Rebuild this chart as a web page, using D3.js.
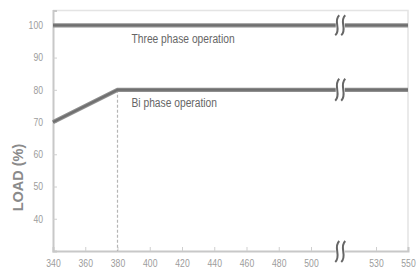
<!DOCTYPE html>
<html><head><meta charset="utf-8">
<script src="https://cdn.jsdelivr.net/npm/d3@7/dist/d3.min.js"></script>
<style>body{margin:0;background:#fff}svg{display:block}</style>
</head><body><svg id="c" width="419" height="271"></svg>
<script>
const xTicks = [340, 360, 380, 400, 420, 440, 460, 480, 500, 530, 550];
const yTicks = [40, 50, 60, 70, 80, 90, 100];
const threePhase = [[340, 100], [550, 100]];
const biPhase = [[340, 70], [380, 80], [550, 80]];
const breakAt = 513.5;
const labels = [{text: "Three phase operation", x: 380, y: 94.4}, {text: "Bi phase operation", x: 380, y: 74.6}];

const svg = d3.select("#c");
const font = "'Liberation Sans','Arial',sans-serif";
const x = d3.scaleLinear().domain([340, 500, 530, 550]).range([53, 311, 376, 408]);
const y = d3.scaleLinear().domain([30, 104.6]).range([251, 10.5]);

function narrow(sel, f) {
  sel.each(function () {
    const w = this.getComputedTextLength();
    d3.select(this).attr("textLength", w * f).attr("lengthAdjust", "spacingAndGlyphs");
  });
}

// frame
svg.append("path").attr("d", `M${x(340)},${y(104.6)}H${x(550)}V${y(30)}`)
  .attr("fill", "none").attr("stroke", "#e4e4e4").attr("stroke-width", 1.5);

// axes
const xa = svg.append("g").attr("transform", `translate(0,${y(30)})`)
  .call(d3.axisBottom(x).tickValues(xTicks).tickSize(-4).tickPadding(9).tickFormat(d3.format("d")));
const ya = svg.append("g").attr("transform", `translate(${x(340)},0)`)
  .call(d3.axisLeft(y).tickValues(yTicks).tickSize(-4).tickPadding(10).tickFormat(d3.format("d")));
[xa, ya].forEach(a => {
  a.select(".domain").attr("stroke", "#c8c8c8").attr("stroke-width", 2);
  a.selectAll(".tick line").attr("stroke", "#cfcfcf");
  a.selectAll("text").attr("fill", "#9c9c9c").style("font-family", font).style("font-size", "10.5px");
  narrow(a.selectAll("text"), 0.82);
});
xa.selectAll(".tick").filter(d => d === 340 || d === 550).select("line").remove();

// dashed guide at 380
svg.append("line").attr("x1", x(380)).attr("x2", x(380)).attr("y1", y(80)).attr("y2", y(30))
  .attr("stroke", "#b5b5b5").attr("stroke-width", 1.2).attr("stroke-dasharray", "3,2");

const line = d3.line().x(d => x(d[0])).y(d => y(d[1]));
[threePhase, biPhase].forEach(s => {
  svg.append("path").datum(s).attr("d", line).attr("fill", "none")
    .attr("stroke", "#8e8e8e").attr("stroke-width", 4.2);
  svg.append("path").datum(s).attr("d", line).attr("fill", "none")
    .attr("stroke", "#6f6f6f").attr("stroke-width", 2);
});

// break symbols
function brk(cx, cy, h) {
  const g = svg.append("g");
  g.append("rect").attr("x", cx - 4.5).attr("y", cy - h / 2 + 4).attr("width", 9).attr("height", h - 8).attr("fill", "#fff");
  [-3, 3].forEach(dx => {
    const x0 = cx + dx, t = cy - h / 2, b = cy + h / 2;
    g.append("path").attr("d", `M${x0 + 2},${t} C${x0 - 4.5},${t + h * 0.3} ${x0 + 4.5},${t + h * 0.7} ${x0 - 2},${b}`)
      .attr("fill", "none").attr("stroke", "#666").attr("stroke-width", 2);
  });
}
brk(x(breakAt), y(100), 20);
brk(x(breakAt), y(80), 22);
brk(x(breakAt), y(30) + 0.5, 21);

// labels
labels.forEach(l => {
  const t = svg.append("text").attr("x", x(l.x) + 14).attr("y", y(l.y)).text(l.text)
    .attr("fill", "#666").style("font-family", font).style("font-size", "12.5px");
  narrow(t, 0.82);
});

svg.append("text").attr("transform", `translate(23,177.5) rotate(-90)`)
  .attr("text-anchor", "middle").text("LOAD (%)")
  .attr("fill", "#8a8a8a").style("font-family", font).style("font-size", "14.5px").style("font-weight", "bold");
</script></body></html>
